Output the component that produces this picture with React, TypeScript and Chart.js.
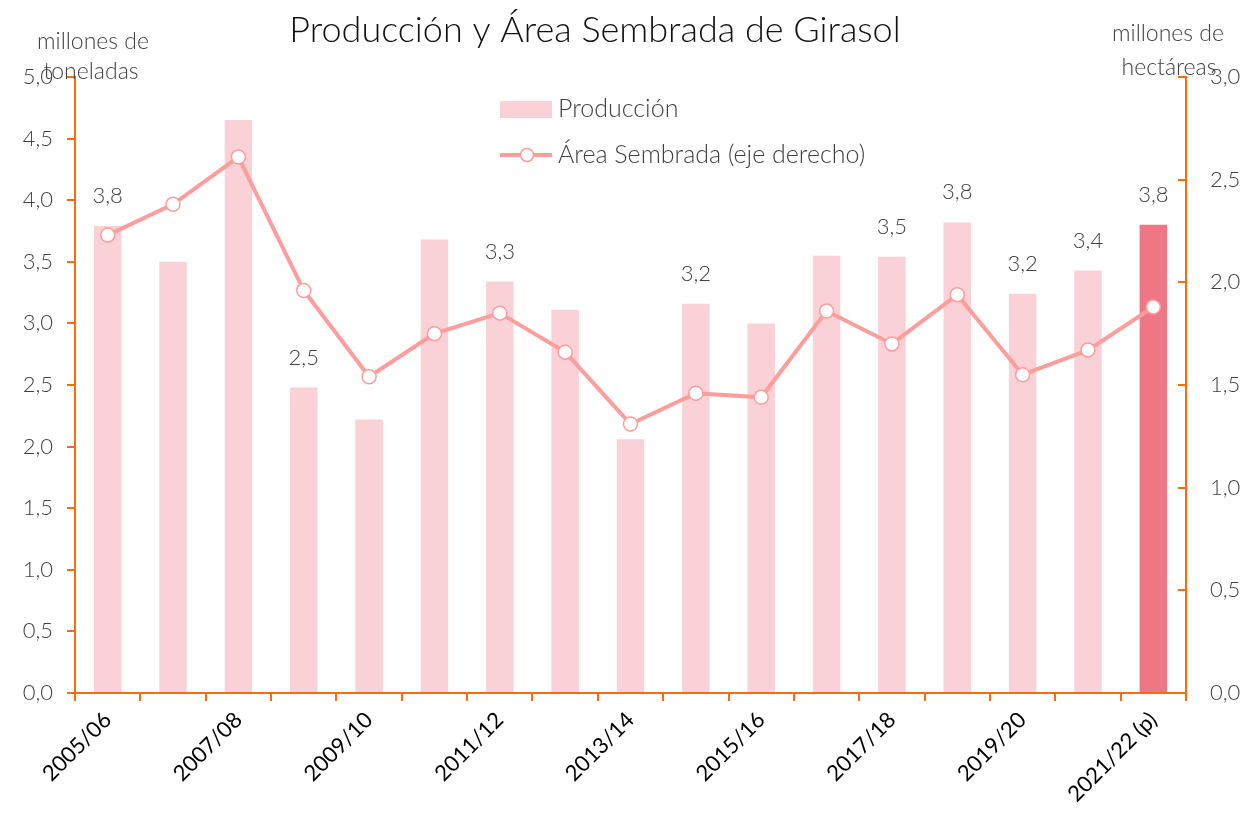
import React, { useEffect, useRef } from "react";
import { Chart, registerables } from "chart.js";

Chart.register(...registerables);

const categories = [
  "2005/06", "2006/07", "2007/08", "2008/09", "2009/10", "2010/11", "2011/12",
  "2012/13", "2013/14", "2014/15", "2015/16", "2016/17", "2017/18", "2018/19",
  "2019/20", "2020/21", "2021/22 (p)",
];

const produccion = [
  3.79, 3.5, 4.65, 2.48, 2.22, 3.68, 3.34, 3.11, 2.06, 3.16, 3.0, 3.55, 3.54,
  3.82, 3.24, 3.43, 3.8,
];

const areaSembrada = [
  2.23, 2.38, 2.61, 1.96, 1.54, 1.75, 1.85, 1.66, 1.31, 1.46, 1.44, 1.86, 1.7,
  1.94, 1.55, 1.67, 1.88,
];

const produccionLabels = [
  "3,8", "", "", "2,5", "", "", "3,3", "", "", "3,2", "", "", "3,5", "3,8",
  "3,2", "3,4", "3,8",
];

const leftTicks = ["0,0", "0,5", "1,0", "1,5", "2,0", "2,5", "3,0", "3,5", "4,0", "4,5", "5,0"];
const rightTicks = ["0,0", "0,5", "1,0", "1,5", "2,0", "2,5", "3,0"];

const TITLE = "Producción y Área Sembrada de Girasol";
const FONT = "Lato";
const ORANGE = "#FF6A0D";
const TEXT = "#404040";
const BAR = "#F9D1D7";
const BAR_DARK = "#EE7785";
const LINE = "#FF9C9C";

const overlayPlugin = {
  id: "overlay",
  afterDatasetsDraw(chart: any) {
    const ctx = chart.ctx;
    const meta = chart.getDatasetMeta(0);
    ctx.save();
    ctx.fillStyle = TEXT;
    ctx.font = `300 22px ${FONT}`;
    ctx.textAlign = "center";
    ctx.textBaseline = "middle";
    meta.data.forEach((bar: any, i: number) => {
      const t = produccionLabels[i];
      if (t) ctx.fillText(t, bar.x, bar.y - 30);
    });
    ctx.restore();
  },
  afterDraw(chart: any) {
    const ctx = chart.ctx;
    const ca = chart.chartArea;
    ctx.save();
    // right axis inward ticks
    const ry = chart.scales.y1;
    ctx.strokeStyle = ORANGE;
    ctx.lineWidth = 2;
    ry.ticks.forEach((t: any) => {
      const y = Math.round(ry.getPixelForValue(t.value));
      ctx.beginPath();
      ctx.moveTo(ca.right - 8, y);
      ctx.lineTo(ca.right, y);
      ctx.stroke();
    });
    // title
    ctx.fillStyle = "#111111";
    ctx.font = `300 36px ${FONT}`;
    ctx.textAlign = "center";
    ctx.textBaseline = "middle";
    ctx.fillText(TITLE, 595, 30);
    // axis titles
    ctx.fillStyle = TEXT;
    ctx.font = `300 23px ${FONT}`;
    ctx.fillText("millones de", 93, 42);
    ctx.fillText("toneladas", 91, 72);
    ctx.fillText("millones de", 1168, 34);
    ctx.fillText("hectáreas", 1169, 68);
    // legend
    const ds0 = chart.data.datasets[0];
    const ds1 = chart.data.datasets[1];
    ctx.fillStyle = BAR;
    ctx.fillRect(500, 101, 52, 17);
    ctx.fillStyle = TEXT;
    ctx.font = `300 25px ${FONT}`;
    ctx.textAlign = "left";
    ctx.fillText(ds0.label, 558, 109);
    ctx.strokeStyle = ds1.borderColor;
    ctx.lineWidth = 4;
    ctx.beginPath();
    ctx.moveTo(500, 155);
    ctx.lineTo(552, 155);
    ctx.stroke();
    ctx.beginPath();
    ctx.arc(527, 155, 6.5, 0, Math.PI * 2);
    ctx.fillStyle = "#ffffff";
    ctx.fill();
    ctx.lineWidth = 1.5;
    ctx.stroke();
    ctx.fillStyle = TEXT;
    ctx.fillText(ds1.label, 558, 155);
    ctx.restore();
  },
};

export default function App() {
  const ref = useRef<HTMLCanvasElement>(null);
  useEffect(() => {
    document.body.style.margin = "0";
    const canvas = ref.current!;
    const chart = new Chart(canvas, {
      type: "bar",
      data: {
        labels: categories,
        datasets: [
          {
            type: "bar",
            label: "Producción",
            data: produccion,
            backgroundColor: produccion.map((_, i) => (i === produccion.length - 1 ? BAR_DARK : BAR)),
            barPercentage: 0.42,
            categoryPercentage: 1,
            yAxisID: "y",
            order: 2,
          },
          {
            type: "line",
            label: "Área Sembrada (eje derecho)",
            data: areaSembrada,
            borderColor: LINE,
            borderWidth: 4,
            pointRadius: 7,
            pointBackgroundColor: "#ffffff",
            pointBorderColor: LINE,
            pointBorderWidth: 1.5,
            tension: 0,
            yAxisID: "y1",
            order: 1,
          },
        ],
      },
      options: {
        responsive: false,
        animation: false,
        devicePixelRatio: 1,
        layout: { padding: { top: 77, left: 0, right: 0, bottom: 0 } },
        plugins: {
          legend: { display: false },
          title: { display: false },
          tooltip: { enabled: false },
        },
        scales: {
          x: {
            offset: true,
            grid: {
              display: true,
              offset: true,
              drawOnChartArea: false,
              drawTicks: true,
              tickLength: 8,
              color: ORANGE,
              lineWidth: 2,
            },
            border: { display: true, color: ORANGE, width: 2 },
            ticks: {
              autoSkip: false,
              maxRotation: 45,
              minRotation: 45,
              padding: 6,
              color: "#000000",
              font: { family: FONT, size: 22, weight: "normal" },
              callback: (_v: any, i: number) => (i % 2 === 0 ? categories[i] : ""),
            },
            afterFit: (s: any) => {
              s.height = 124;
            },
          },
          y: {
            position: "left",
            min: 0,
            max: 5,
            grid: {
              display: true,
              drawOnChartArea: false,
              drawTicks: true,
              tickLength: 8,
              color: ORANGE,
              lineWidth: 2,
            },
            border: { display: true, color: ORANGE, width: 2 },
            ticks: {
              stepSize: 0.5,
              padding: 14,
              color: TEXT,
              font: { family: FONT, size: 22, weight: "300" },
              callback: (_v: any, i: number) => leftTicks[i],
            },
            afterFit: (s: any) => {
              s.width = 75;
            },
          },
          y1: {
            position: "right",
            min: 0,
            max: 3,
            grid: { display: false, drawTicks: false },
            border: { display: true, color: ORANGE, width: 2 },
            ticks: {
              stepSize: 0.5,
              padding: 24,
              color: TEXT,
              font: { family: FONT, size: 22, weight: "300" },
              callback: (_v: any, i: number) => rightTicks[i],
            },
            afterFit: (s: any) => {
              s.width = 64;
            },
          },
        },
      },
      plugins: [overlayPlugin],
    });
    return () => chart.destroy();
  }, []);
  return (
    <div style={{ width: 1250, height: 817 }}>
      <canvas ref={ref} width={1250} height={817} />
    </div>
  );
}
